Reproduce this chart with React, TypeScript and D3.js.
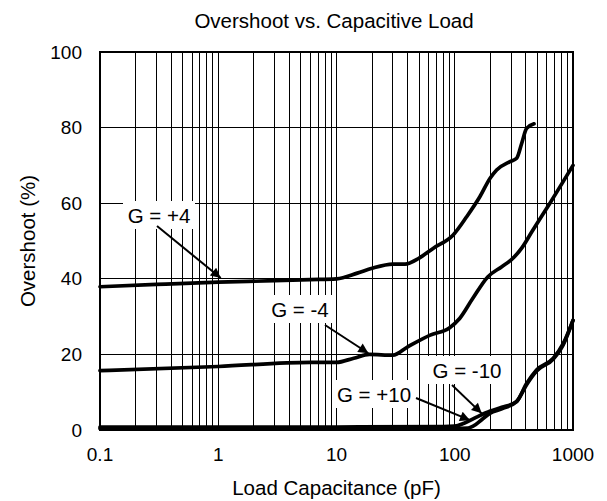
import React from 'react';
import * as d3 from 'd3';

const xTickValues = [0.1, 1, 10, 100, 1000];
const xTickLabels = ['0.1', '1', '10', '100', '1000'];
const yTickValues = [0, 20, 40, 60, 80, 100];

const capG4 = [0.1, 0.3, 1, 3, 6, 10, 15, 20, 30, 38, 50, 66, 97, 126, 163, 199, 226, 293, 334, 368, 405, 468];
const ovG4 = [37.9, 38.5, 39.1, 39.5, 39.8, 40.0, 41.5, 42.8, 43.9, 43.9, 45.5, 48.1, 51.6, 56.4, 61.7, 66.6, 68.8, 71.0, 71.9, 75.8, 79.8, 81.0];

const capGm4 = [0.1, 1, 6, 10, 14, 19, 30, 40, 62, 90, 110, 140, 190, 250, 300, 368, 450, 638, 1000];
const ovGm4 = [15.7, 16.8, 17.9, 17.9, 19.0, 20.0, 19.8, 22.0, 25.1, 27.0, 29.5, 34.5, 40.5, 43.2, 45.0, 48.1, 52.5, 60.0, 70.0];

const capG10 = [0.1, 10, 80, 100, 120, 153, 200, 250, 333, 405, 492, 682, 828, 1000];
const ovG10 = [0.8, 0.8, 0.9, 1.0, 1.8, 3.4, 5.0, 6.0, 7.5, 12.3, 15.9, 19.0, 22.9, 29.0];

const capGm10 = [0.1, 10, 100, 130, 143, 170, 198, 250, 333, 405, 492, 682, 828, 1000];
const ovGm10 = [0.4, 0.4, 0.4, 0.5, 1.0, 2.8, 4.4, 5.6, 7.5, 12.0, 15.6, 18.8, 22.6, 29.0];

const seriesCaps = [capG4, capGm4, capG10, capGm10];
const seriesValues = [ovG4, ovGm4, ovG10, ovGm10];

const labelTexts = ['G = +4', 'G = -4', 'G = +10', 'G = -10'];
const arrowTargetCap = [1.05, 18.6, 134.6, 169];
const arrowTargetOv = [40.2, 20.3, 2.6, 4.4];

export default function App() {
  const W = 607, H = 501;
  const left = 100, right = 573, top = 52, bottom = 430;
  const x = d3.scaleLog().domain([0.1, 1000]).range([left, right]);
  const y = d3.scaleLinear().domain([0, 100]).range([bottom, top]);

  const vGrid: number[] = [];
  [0.1, 1, 10, 100].forEach((d) => {
    for (let k = 1; k <= 9; k++) {
      const v = d * k;
      if (v > 0.1) vGrid.push(v);
    }
  });

  const line = d3
    .line<[number, number]>()
    .x((d) => x(d[0]))
    .y((d) => y(d[1]))
    .curve(d3.curveMonotoneX);

  const font = 'Arial, "Liberation Sans", sans-serif';

  const labelPos = [
    { cx: 159, by: 223, sx: 157, sy: 226 },
    { cx: 300, by: 317, sx: 325, sy: 325 },
    { cx: 374, by: 402, sx: 416, sy: 398 },
    { cx: 467, by: 378, sx: 452, sy: 385 },
  ];
  const boxW = [72, 70, 78, 78];

  return (
    <svg
      width={W}
      height={H}
      style={{ position: 'absolute', left: 0, top: 0, background: '#fff' }}
      fontFamily={font}
    >
      <defs>
        <marker id="ah" viewBox="0 0 10 10" refX="10" refY="5" markerWidth="6.5" markerHeight="5" orient="auto" markerUnits="strokeWidth">
          <path d="M0,0 L10,5 L0,10 z" fill="#000" />
        </marker>
      </defs>
      <rect x={0} y={0} width={W} height={H} fill="#fff" />
      <g stroke="#000" strokeWidth={1} shapeRendering="crispEdges">
        {vGrid.map((v, i) => (
          <line key={'v' + i} x1={x(v)} x2={x(v)} y1={top} y2={bottom} />
        ))}
        {yTickValues.slice(1, -1).map((v, i) => (
          <line key={'h' + i} x1={left} x2={right} y1={y(v)} y2={y(v)} />
        ))}
      </g>
      {labelTexts.map((t, i) => (
        <rect key={'b' + i} x={labelPos[i].cx - boxW[i] / 2} y={labelPos[i].by - 22} width={boxW[i]} height={28} fill="#fff" />
      ))}
      <rect x={left} y={top} width={right - left} height={bottom - top} fill="none" stroke="#000" strokeWidth={2} />
      {seriesCaps.map((caps, i) => (
        <path
          key={'s' + i}
          d={line(caps.map((c, j) => [c, seriesValues[i][j]] as [number, number])) || ''}
          fill="none"
          stroke="#000"
          strokeWidth={3.7}
          strokeLinejoin="round"
          strokeLinecap="round"
        />
      ))}
      {labelTexts.map((t, i) => (
        <g key={'a' + i}>
          <text x={labelPos[i].cx} y={labelPos[i].by} textAnchor="middle" fontSize={20.5} fill="#000">
            {t}
          </text>
          <line
            x1={labelPos[i].sx}
            y1={labelPos[i].sy}
            x2={x(arrowTargetCap[i])}
            y2={y(arrowTargetOv[i])}
            stroke="#000"
            strokeWidth={2}
            markerEnd="url(#ah)"
          />
        </g>
      ))}
      {yTickValues.map((v, i) => (
        <text key={'yt' + i} x={left - 18} y={y(v)} dy="0.35em" textAnchor="end" fontSize={19} fill="#000">
          {v}
        </text>
      ))}
      {xTickValues.map((v, i) => (
        <text key={'xt' + i} x={x(v)} y={461} textAnchor="middle" fontSize={19} fill="#000">
          {xTickLabels[i]}
        </text>
      ))}
      <text x={334} y={28} textAnchor="middle" fontSize={20.5} fill="#000">
        Overshoot vs. Capacitive Load
      </text>
      <text x={(left + right) / 2} y={495} textAnchor="middle" fontSize={20.5} fill="#000">
        Load Capacitance (pF)
      </text>
      <text transform={`translate(35,${(top + bottom) / 2}) rotate(-90)`} textAnchor="middle" fontSize={20.5} fill="#000">
        Overshoot (%)
      </text>
    </svg>
  );
}
